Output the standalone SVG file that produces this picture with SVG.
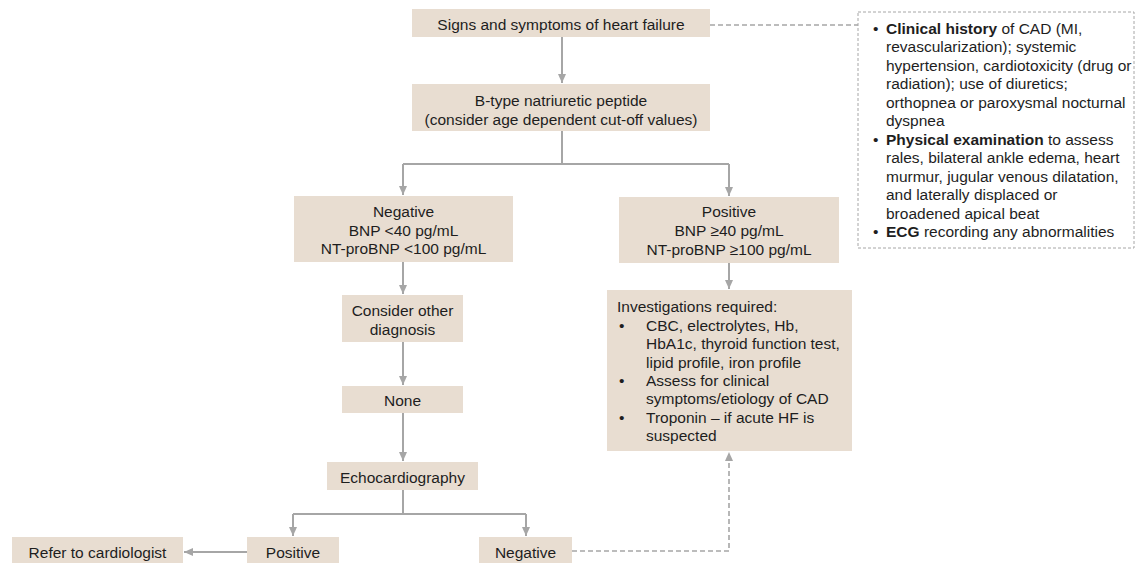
<svg xmlns="http://www.w3.org/2000/svg" width="1136" height="563" viewBox="0 0 1136 563">
<style>
.box{fill:#E8DDD1;}
.t{font-family:"Liberation Sans",Arial,sans-serif;font-size:15.5px;fill:#1e1e1e;}
.c{text-anchor:middle;}
.b{font-weight:bold;}
.ln{fill:none;stroke:#A6A6A6;stroke-width:2;}
.ds{fill:none;stroke:#A6A6A6;stroke-width:1.6;stroke-dasharray:5,3;}
.db{fill:#fff;stroke:#A6A6A6;stroke-width:1;stroke-dasharray:3,2;}
</style>
<defs>
<marker id="ah" markerUnits="userSpaceOnUse" markerWidth="10" markerHeight="10" viewBox="0 0 10 10" refX="9" refY="5" orient="auto">
<path d="M0,1 L9,5 L0,9 Z" fill="#A6A6A6"/>
</marker>
</defs>
<rect width="1136" height="563" fill="#fff"/>
<g id="connectors">
<path class="ln" d="M562,37 V83" marker-end="url(#ah)"/>
<path class="ln" d="M562,131 V164 M403,164 H729"/>
<path class="ln" d="M403,164 V195" marker-end="url(#ah)"/>
<path class="ln" d="M729,164 V196" marker-end="url(#ah)"/>
<path class="ln" d="M403,262 V294" marker-end="url(#ah)"/>
<path class="ln" d="M729,263 V289" marker-end="url(#ah)"/>
<path class="ln" d="M403,342 V385" marker-end="url(#ah)"/>
<path class="ln" d="M403,413 V461" marker-end="url(#ah)"/>
<path class="ln" d="M403,490 V514 M293,514 H526"/>
<path class="ln" d="M293,514 V536" marker-end="url(#ah)"/>
<path class="ln" d="M526,514 V536" marker-end="url(#ah)"/>
<path class="ln" d="M247,552 H184" marker-end="url(#ah)"/>
<path class="ds" d="M710,25 H858"/>
<path class="ds" d="M572,551 H729 V452" marker-end="url(#ah)"/>
</g>
<g id="n-signs"><rect class="box" x="412" y="9" width="298" height="28"/><text class="t c" x="561" y="30">Signs and symptoms of heart failure</text></g>
<g id="n-bnp"><rect class="box" x="412" y="84" width="298" height="47"/><text class="t c" x="561" y="105.5">B-type natriuretic peptide</text><text class="t c" x="561" y="124.5">(consider age dependent cut-off values)</text></g>
<g id="n-neg"><rect class="box" x="294" y="196" width="219" height="66"/><text class="t c" x="403.5" y="216.5">Negative</text><text class="t c" x="403.5" y="235.5">BNP &lt;40 pg/mL</text><text class="t c" x="403.5" y="254">NT-proBNP &lt;100 pg/mL</text></g>
<g id="n-pos"><rect class="box" x="619" y="197" width="220" height="66"/><text class="t c" x="729" y="217">Positive</text><text class="t c" x="729" y="236">BNP ≥40 pg/mL</text><text class="t c" x="729" y="254.5">NT-proBNP ≥100 pg/mL</text></g>
<g id="n-other"><rect class="box" x="342" y="295" width="121" height="47"/><text class="t c" x="402.5" y="316">Consider other</text><text class="t c" x="402.5" y="334.5">diagnosis</text></g>
<g id="n-none"><rect class="box" x="342" y="386" width="121" height="27"/><text class="t c" x="402.5" y="405.5">None</text></g>
<g id="n-echo"><rect class="box" x="327" y="462" width="151" height="28"/><text class="t c" x="402.5" y="482.5">Echocardiography</text></g>
<g id="n-inv"><rect class="box" x="607" y="290" width="245" height="161"/>
<text class="t" x="617" y="312">Investigations required:</text>
<text class="t" x="619" y="330.5">•</text><text class="t" x="646" y="330.5">CBC, electrolytes, Hb,</text>
<text class="t" x="646" y="349">HbA1c, thyroid function test,</text>
<text class="t" x="646" y="367.5">lipid profile, iron profile</text>
<text class="t" x="619" y="386">•</text><text class="t" x="646" y="386">Assess for clinical</text>
<text class="t" x="646" y="404">symptoms/etiology of CAD</text>
<text class="t" x="619" y="422.5">•</text><text class="t" x="646" y="422.5">Troponin – if acute HF is</text>
<text class="t" x="646" y="441">suspected</text>
</g>
<g id="n-refer"><rect class="box" x="12" y="537" width="171" height="28"/><text class="t c" x="97.5" y="557.5">Refer to cardiologist</text></g>
<g id="n-epos"><rect class="box" x="247" y="537" width="92" height="28"/><text class="t c" x="293" y="557.5">Positive</text></g>
<g id="n-eneg"><rect class="box" x="479" y="537" width="93" height="28"/><text class="t c" x="525.5" y="557.5">Negative</text></g>
<g id="n-clinical"><rect class="db" x="858" y="12" width="276" height="236"/>
<text class="t" x="873" y="33.5">•</text><text class="t" x="886" y="33.5"><tspan class="b">Clinical history</tspan> of CAD (MI,</text>
<text class="t" x="886" y="52">revascularization); systemic</text>
<text class="t" x="886" y="70.5">hypertension, cardiotoxicity (drug or</text>
<text class="t" x="886" y="89">radiation); use of diuretics;</text>
<text class="t" x="886" y="107.5">orthopnea or paroxysmal nocturnal</text>
<text class="t" x="886" y="126">dyspnea</text>
<text class="t" x="873" y="144.5">•</text><text class="t" x="886" y="144.5"><tspan class="b">Physical examination</tspan> to assess</text>
<text class="t" x="886" y="163">rales, bilateral ankle edema, heart</text>
<text class="t" x="886" y="181.5">murmur, jugular venous dilatation,</text>
<text class="t" x="886" y="200">and laterally displaced or</text>
<text class="t" x="886" y="218.5">broadened apical beat</text>
<text class="t" x="873" y="237">•</text><text class="t" x="886" y="237"><tspan class="b">ECG</tspan> recording any abnormalities</text>
</g>
</svg>
